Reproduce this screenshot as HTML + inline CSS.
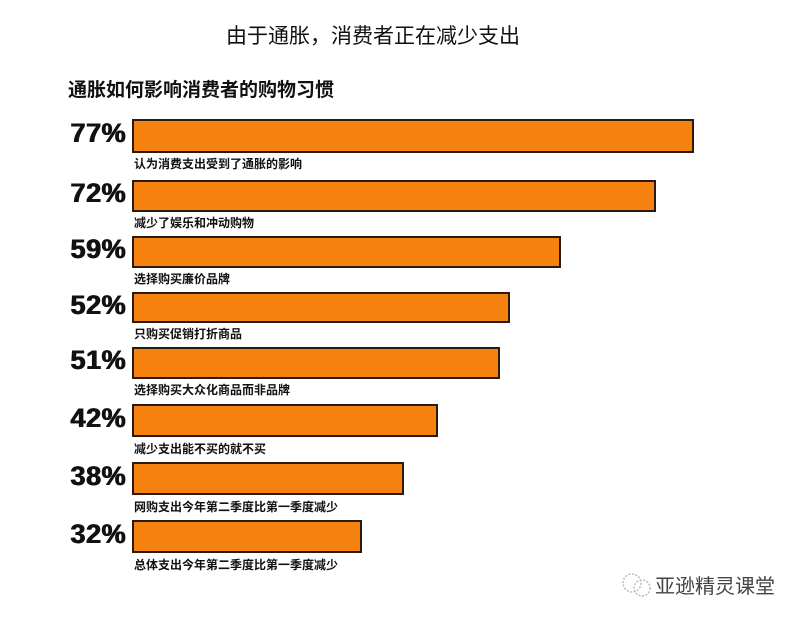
<!DOCTYPE html>
<html><head><meta charset="utf-8"><style>
body{margin:0;width:802px;height:620px;background:#fff;position:relative;font-family:"Liberation Sans","Noto Sans CJK SC",sans-serif;overflow:hidden}
.t{position:absolute;left:0;width:746px;top:20px;text-align:center;font-size:21px;color:#111}
.s{position:absolute;left:68px;top:75px;font-size:19px;font-weight:bold;color:#111}
.p{position:absolute;left:66px;font-size:27px;font-weight:900;color:#111;width:60px;text-align:right;letter-spacing:0.5px;text-shadow:0.6px 0 0 #111,-0.4px 0 0 #111}
.b{position:absolute;left:132px;height:30px;background:#f5820e;border:2px solid #2a1a10;box-sizing:content-box}
.l{position:absolute;left:134px;font-size:12px;font-weight:bold;color:#111}
.w{position:absolute;left:655px;top:570px;font-size:20px;color:#444}
</style></head><body>
<div class="t">由于通胀，消费者正在减少支出</div>
<div class="s">通胀如何影响消费者的购物习惯</div>

<div class="p" style="top:118px">77%</div><div class="b" style="top:119px;width:558px"></div><div class="l" style="top:155px">认为消费支出受到了通胀的影响</div>
<div class="p" style="top:178px">72%</div><div class="b" style="top:180px;width:520px;height:28px"></div><div class="l" style="top:214px">减少了娱乐和冲动购物</div>
<div class="p" style="top:234px">59%</div><div class="b" style="top:236px;width:425px;height:28px"></div><div class="l" style="top:270px">选择购买廉价品牌</div>
<div class="p" style="top:290px">52%</div><div class="b" style="top:292px;width:374px;height:27px"></div><div class="l" style="top:325px">只购买促销打折商品</div>
<div class="p" style="top:345px">51%</div><div class="b" style="top:347px;width:364px;height:28px"></div><div class="l" style="top:381px">选择购买大众化商品而非品牌</div>
<div class="p" style="top:403px">42%</div><div class="b" style="top:404px;width:302px;height:29px"></div><div class="l" style="top:440px">减少支出能不买的就不买</div>
<div class="p" style="top:461px">38%</div><div class="b" style="top:462px;width:268px;height:29px"></div><div class="l" style="top:498px">网购支出今年第二季度比第一季度减少</div>
<div class="p" style="top:519px">32%</div><div class="b" style="top:520px;width:226px;height:29px"></div><div class="l" style="top:556px">总体支出今年第二季度比第一季度减少</div>

<svg style="position:absolute;left:620px;top:572px" width="34" height="26"><circle cx="12" cy="11" r="9" fill="none" stroke="#bbb" stroke-width="1.5" stroke-dasharray="2 1.5"/><circle cx="22" cy="16" r="8" fill="none" stroke="#bbb" stroke-width="1.5" stroke-dasharray="2 1.5"/></svg>
<div class="w">亚逊精灵课堂</div>
</body></html>
